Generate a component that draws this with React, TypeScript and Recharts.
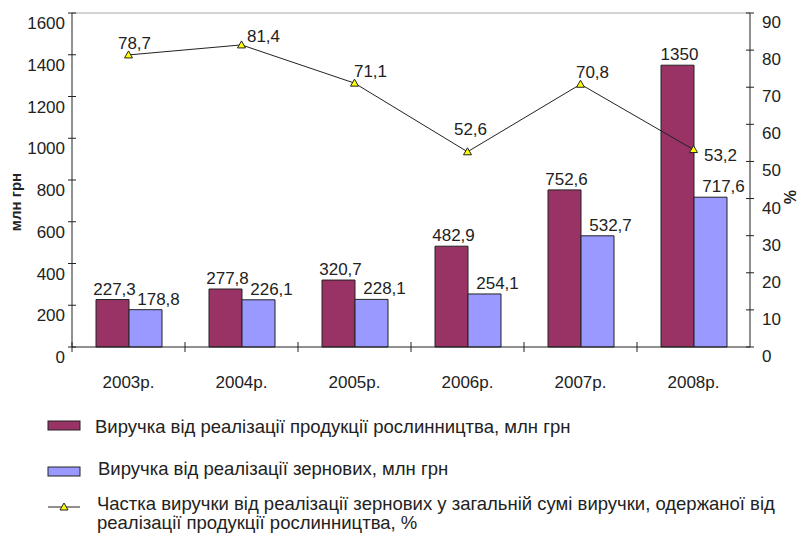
import React from "react";
import {
  ComposedChart,
  Bar,
  Line,
  XAxis,
  YAxis,
  LabelList,
  ReferenceLine,
} from "recharts";

const YEARS = ["2003р.", "2004р.", "2005р.", "2006р.", "2007р.", "2008р."];
const CROP_REVENUE = [227.3, 277.8, 320.7, 482.9, 752.6, 1350];
const GRAIN_REVENUE = [178.8, 226.1, 228.1, 254.1, 532.7, 717.6];
const GRAIN_SHARE = [78.7, 81.4, 71.1, 52.6, 70.8, 53.2];
const LEFT_TICKS = [0, 200, 400, 600, 800, 1000, 1200, 1400, 1600];
const RIGHT_TICKS = [0, 10, 20, 30, 40, 50, 60, 70, 80, 90];

const LEGEND_CROP = "Виручка від реалізації продукції рослинництва, млн грн";
const LEGEND_GRAIN = "Виручка від реалізації зернових, млн грн";
const LEGEND_SHARE_1 =
  "Частка виручки від реалізації зернових у загальній сумі виручки, одержаної від";
const LEGEND_SHARE_2 = "реалізації продукції рослинництва, %";

const MAROON = "#993366";
const LILAC = "#9999ff";
const INK = "#222";
const FONT = "'Liberation Sans', Arial, sans-serif";
const NUM_SIZE = 17;

const W = 800;
const H = 400;
const PLOT_LEFT = 72;
const PLOT_RIGHT = 750;
const BAND = (PLOT_RIGHT - PLOT_LEFT) / YEARS.length;

// hand nudges for the line labels, Excel-style placement
const LINE_LABEL_NUDGE: [number, number][] = [
  [6, -12],
  [22, -9],
  [16, -12],
  [3, -23],
  [12, -12],
  [27, 5],
];

const data = YEARS.map((year, i) => ({
  year,
  crop: CROP_REVENUE[i],
  grain: GRAIN_REVENUE[i],
  share: GRAIN_SHARE[i],
}));

const fmt = (v: number) => (Number.isInteger(v) ? String(v) : String(v).replace(".", ","));

function LeftTick({ x, y, payload }: any) {
  return (
    <g>
      <line x1={x - 4} x2={x + 4} y1={y} y2={y} stroke={INK} />
      <text x={x - 7} y={y + 16} textAnchor="end" fontSize={NUM_SIZE} fontFamily={FONT} fill={INK}>
        {payload.value}
      </text>
    </g>
  );
}

function RightTick({ x, y, payload }: any) {
  return (
    <g>
      <line x1={x - 4} x2={x + 4} y1={y} y2={y} stroke={INK} />
      <text x={x + 12} y={y + 15} textAnchor="start" fontSize={NUM_SIZE} fontFamily={FONT} fill={INK}>
        {payload.value}
      </text>
    </g>
  );
}

function YearTick({ x, y, payload }: any) {
  const bx = x - BAND / 2;
  return (
    <g>
      <line x1={bx} x2={bx} y1={y - 5} y2={y + 5} stroke={INK} />
      <text x={x} y={y + 41} textAnchor="middle" fontSize={NUM_SIZE} fontFamily={FONT} fill={INK}>
        {payload.value}
      </text>
    </g>
  );
}

function barLabel(dx: number) {
  return (props: any) => {
    const { x, y, width, value } = props;
    return (
      <text
        x={x + width / 2 + dx}
        y={y - 5}
        textAnchor="middle"
        fontSize={NUM_SIZE}
        fontFamily={FONT}
        fill={INK}
      >
        {fmt(value)}
      </text>
    );
  };
}

function LineLabel(props: any) {
  const { x, y, value, index } = props;
  const [dx, dy] = LINE_LABEL_NUDGE[index] ?? [10, -12];
  return (
    <text
      x={x + dx}
      y={y + dy + 6}
      textAnchor="middle"
      fontSize={NUM_SIZE}
      fontFamily={FONT}
      fill={INK}
    >
      {fmt(value)}
    </text>
  );
}

function TriangleDot({ cx, cy }: any) {
  if (cx == null || cy == null) return null;
  return (
    <path
      d={`M${cx - 4},${cy + 3} L${cx},${cy - 4} L${cx + 4},${cy + 3} Z`}
      fill="#ffff00"
      stroke={INK}
      strokeWidth={1}
    />
  );
}

function Legend() {
  const fs = 18.5;
  return (
    <svg
      width={W}
      height={536}
      style={{ position: "absolute", left: 0, top: 0, pointerEvents: "none" }}
    >
      <g fontFamily={FONT} fontSize={fs} fill={INK}>
        <rect x={48} y={421} width={32} height={9} fill={MAROON} stroke={INK} />
        <text x={95} y={433}>{LEGEND_CROP}</text>
        <rect x={48} y={467} width={32} height={9} fill={LILAC} stroke={INK} />
        <text x={98} y={475}>{LEGEND_GRAIN}</text>
        <line x1={48} x2={80} y1={507} y2={507} stroke={INK} />
        <TriangleDot cx={64} cy={507} />
        <text x={97} y={510}>{LEGEND_SHARE_1}</text>
        <text x={97} y={529}>{LEGEND_SHARE_2}</text>
      </g>
      <text
        transform="translate(21,202) rotate(-90)"
        textAnchor="middle"
        fontFamily={FONT}
        fontSize={15}
        fontWeight="bold"
        fill={INK}
      >
        млн грн
      </text>
      <text
        transform="translate(784,197) rotate(90)"
        textAnchor="middle"
        fontFamily={FONT}
        fontSize={16}
        fontWeight="bold"
        fill={INK}
      >
        %
      </text>
    </svg>
  );
}

export default function App() {
  return (
    <div
      style={{
        position: "absolute",
        left: 0,
        top: 0,
        width: W,
        height: 536,
        background: "#fff",
      }}
    >
      <ComposedChart
        width={W}
        height={H}
        data={data}
        margin={{ top: 13, right: 0, bottom: 0, left: 0 }}
        barCategoryGap={24}
        barGap={0}
      >
        <XAxis
          dataKey="year"
          axisLine={{ stroke: INK }}
          tickLine={false}
          tickSize={0}
          tickMargin={0}
          height={53}
          tick={<YearTick />}
          interval={0}
        />
        <YAxis
          yAxisId="left"
          orientation="left"
          domain={[0, 1600]}
          ticks={LEFT_TICKS}
          width={PLOT_LEFT}
          axisLine={{ stroke: INK }}
          tickLine={false}
          tickSize={0}
          tickMargin={0}
          tick={<LeftTick />}
          interval={0}
        />
        <YAxis
          yAxisId="right"
          orientation="right"
          domain={[0, 90]}
          ticks={RIGHT_TICKS}
          width={W - PLOT_RIGHT}
          axisLine={{ stroke: INK }}
          tickLine={false}
          tickSize={0}
          tickMargin={0}
          tick={<RightTick />}
          interval={0}
        />
        <ReferenceLine yAxisId="left" y={1600} stroke="#a8a8a8" />
        <Bar
          yAxisId="left"
          dataKey="crop"
          fill={MAROON}
          stroke={INK}
          strokeWidth={1}
          isAnimationActive={false}
        >
          <LabelList dataKey="crop" content={barLabel(2)} />
        </Bar>
        <Bar
          yAxisId="left"
          dataKey="grain"
          fill={LILAC}
          stroke={INK}
          strokeWidth={1}
          isAnimationActive={false}
        >
          <LabelList dataKey="grain" content={barLabel(13)} />
        </Bar>
        <Line
          yAxisId="right"
          dataKey="share"
          stroke={INK}
          strokeWidth={1}
          dot={<TriangleDot />}
          activeDot={false}
          isAnimationActive={false}
        >
          <LabelList dataKey="share" content={<LineLabel />} />
        </Line>
      </ComposedChart>
      <Legend />
    </div>
  );
}
